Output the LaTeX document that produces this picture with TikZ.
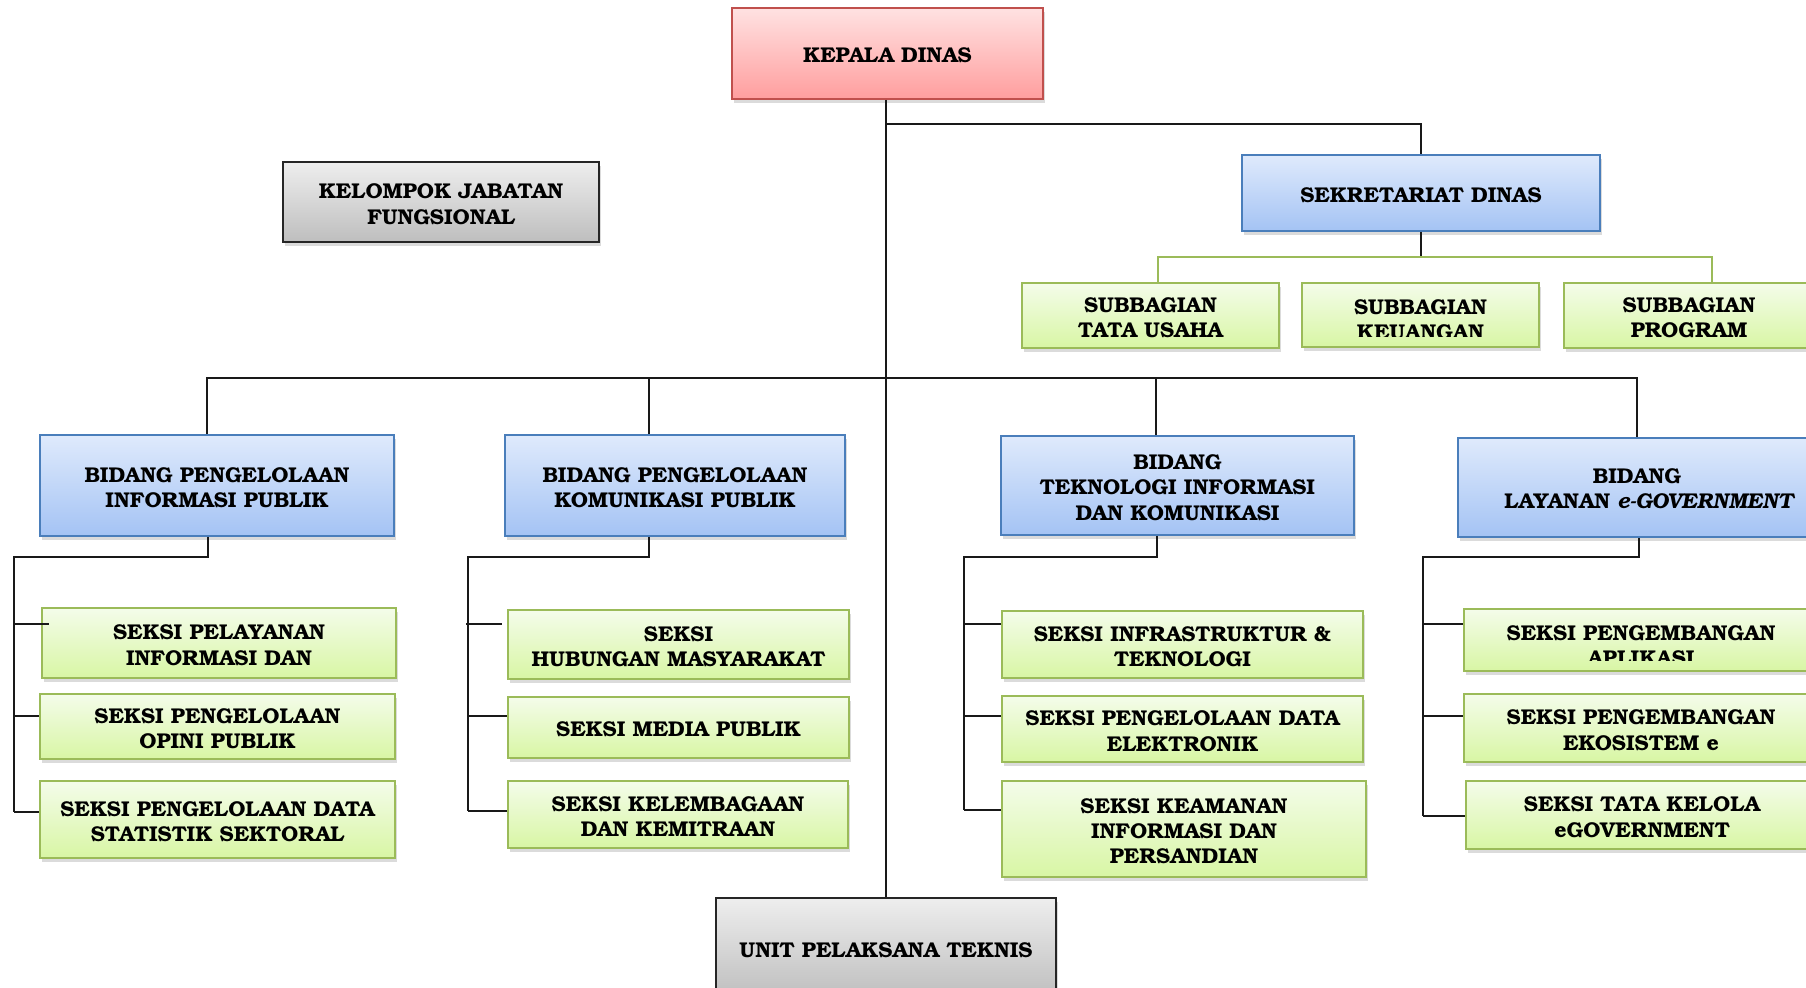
\documentclass[tikz,border=0pt]{standalone}
\usepackage{fontspec}
\setmainfont{texgyrebonum}[Extension=.otf, UprightFont=*-regular, BoldFont=*-bold, ItalicFont=*-italic, BoldItalicFont=*-bolditalic]
\usetikzlibrary{shadows,calc}
\definecolor{redb}{HTML}{C0504D}
\definecolor{redt}{HTML}{FFE2E2}
\definecolor{redbot}{HTML}{FF9E9E}
\definecolor{blueb}{HTML}{4A7EBB}
\definecolor{bluet}{HTML}{DFEAFC}
\definecolor{bluebot}{HTML}{A4C3F4}
\definecolor{greenb}{HTML}{9BBB59}
\definecolor{greent}{HTML}{F4FCEA}
\definecolor{greenbot}{HTML}{D8F6A4}
\definecolor{grayt}{HTML}{EEEEEE}
\definecolor{graybot}{HTML}{BEBEBE}
\tikzset{
  txt/.style={align=center, inner sep=0pt, font=\bfseries\fontsize{10.7}{12.7}\selectfont},
  base/.style={line width=0.9pt, inner sep=0pt, drop shadow={shadow xshift=1.2pt, shadow yshift=-1.8pt, opacity=0.28}},
  redbox/.style={base, draw=redb, top color=redt, bottom color=redbot},
  bluebox/.style={base, draw=blueb, top color=bluet, bottom color=bluebot},
  greenbox/.style={base, draw=greenb, top color=greent, bottom color=greenbot},
  graybox/.style={base, draw=black!85, top color=grayt, bottom color=graybot},
  conn/.style={line width=1.1pt, black!90},
  gconn/.style={line width=1.1pt, greenb},
}
% \bx{style}{name}{x1}{y1}{x2}{y2}{text}  (pixel corners)
\newcommand\bx[7]{%
  \pgfmathsetmacro\bxcx{(#3+#5)/2}%
  \pgfmathsetmacro\bxcy{(#4+#6)/2}%
  \pgfmathsetmacro\bxw{(#5-#3)/2}%
  \pgfmathsetmacro\bxh{(#6-#4)/2}%
  \node[#1, minimum width=\bxw pt, minimum height=\bxh pt] (#2) at (\bxcx,\bxcy) {};
  \node[txt, yshift=-1.1pt] (#2t) at (#2.center) {#7};}
\begin{document}
\begin{tikzpicture}[x=0.5pt,y=-0.5pt]
\clip (0,0) rectangle (1806,988);
\fill[white] (0,0) rectangle (1806,988);
% top level
\bx{redbox}{kepala}{732}{8}{1043}{99}{KEPALA DINAS}
\bx{graybox}{kelompok}{283}{162}{599}{242}{KELOMPOK JABATAN\\FUNGSIONAL}
\bx{bluebox}{sek}{1242}{155}{1600}{231}{SEKRETARIAT DINAS}
\bx{greenbox}{sub1}{1022}{283}{1279}{348}{SUBBAGIAN\\TATA USAHA}
\bx{greenbox}{sub2}{1302}{283}{1539}{347}{}
\begin{scope}
  \clip (1302,283) rectangle (1539,336.5);
  \node[txt] (sub2x) at (1420.5,319.5) {SUBBAGIAN\\KEUANGAN};
\end{scope}
\bx{greenbox}{sub3}{1564}{283}{1814}{348}{SUBBAGIAN\\PROGRAM}
\bx{graybox}{unit}{716}{898}{1056}{998}{UNIT PELAKSANA TEKNIS}
% bidang
\bx{bluebox}{b1}{40}{435}{394}{536}{BIDANG PENGELOLAAN\\INFORMASI PUBLIK}
\bx{bluebox}{b2}{505}{435}{845}{536}{BIDANG PENGELOLAAN\\KOMUNIKASI PUBLIK}
\bx{bluebox}{b3}{1001}{436}{1354}{535}{BIDANG\\TEKNOLOGI INFORMASI\\DAN KOMUNIKASI}
\bx{bluebox}{b4}{1458}{438}{1822}{537}{}
\node[txt] (b4x) at (1637,489) {BIDANG\\\hspace*{1.2em}LAYANAN \textit{e-GOVERNMENT}};
% seksi
\bx{greenbox}{s1a}{42}{608}{396}{678}{SEKSI PELAYANAN\\INFORMASI DAN}
\bx{greenbox}{s1b}{40}{694}{395}{759}{SEKSI PENGELOLAAN\\OPINI PUBLIK}
\bx{greenbox}{s1c}{40}{781}{395}{858}{SEKSI PENGELOLAAN DATA\\STATISTIK SEKTORAL}
\bx{greenbox}{s2a}{508}{610}{849}{679}{SEKSI\\HUBUNGAN MASYARAKAT}
\bx{greenbox}{s2b}{508}{697}{849}{758}{SEKSI MEDIA PUBLIK}
\bx{greenbox}{s2c}{508}{781}{848}{848}{SEKSI KELEMBAGAAN\\DAN KEMITRAAN}
\bx{greenbox}{s3a}{1002}{611}{1363}{678}{SEKSI INFRASTRUKTUR \&\\TEKNOLOGI}
\bx{greenbox}{s3b}{1002}{696}{1363}{762}{SEKSI PENGELOLAAN DATA\\ELEKTRONIK}
\bx{greenbox}{s3c}{1002}{781}{1366}{877}{SEKSI KEAMANAN\\INFORMASI DAN\\PERSANDIAN}
\bx{greenbox}{s4a}{1464}{609}{1818}{671}{}
\begin{scope}
  \clip (1464,609) rectangle (1818,661);
  \node[txt] (s4ax) at (1641,646) {SEKSI PENGEMBANGAN\\APLIKASI};
\end{scope}
\bx{greenbox}{s4b}{1464}{694}{1818}{762}{SEKSI PENGEMBANGAN\\EKOSISTEM e}
\bx{greenbox}{s4c}{1466}{781}{1818}{849}{SEKSI TATA KELOLA\\eGOVERNMENT}
% connectors top
\coordinate (tj) at (886,124);
\draw[conn] (kepala.south -| tj) -- (unit.north -| tj);
\draw[conn] (tj) -| (sek.north);
\draw[conn] (sek.south) -- (sek.south |- 0,257);
\coordinate (gL) at (1158,257);
\coordinate (gR) at (1712,257);
\draw[gconn] (sub1.north -| gL) -- (gL) -- (gR) -- (sub3.north -| gR);
% main bus
\coordinate (mL) at (207,378);
\coordinate (m2) at (649,378);
\coordinate (m3) at (1156,378);
\coordinate (mR) at (1637,378);
\draw[conn] (b1.north -| mL) -- (mL) -- (mR) -- (b4.north -| mR);
\draw[conn] (m2) -- (b2.north -| m2);
\draw[conn] (m3) -- (b3.north -| m3);
% group 1
\coordinate (d1) at (208,557);
\coordinate (v1) at (14,557);
\draw[conn] (b1.south -| d1) -- (d1) -- (v1) -- (v1 |- 0,812);
\draw[conn] (v1 |- 0,624) -- ($(s1a.west |- 0,624)+(8,0)$);
\draw[conn] (v1 |- 0,716) -- (s1b.west |- 0,716);
\draw[conn] (v1 |- 0,812) -- (s1c.west |- 0,812);
% group 2
\coordinate (d2) at (649,557);
\coordinate (v2) at (468,557);
\draw[conn] (b2.south -| d2) -- (d2) -- (v2) -- (v2 |- 0,811);
\draw[conn] ($(v2 |- 0,624)+(-2,0)$) -- ($(s2a.west |- 0,624)+(-5,0)$);
\draw[conn] (v2 |- 0,716) -- (s2b.west |- 0,716);
\draw[conn] (v2 |- 0,811) -- (s2c.west |- 0,811);
% group 3
\coordinate (d3) at (1157,557);
\coordinate (v3) at (964,557);
\draw[conn] (b3.south -| d3) -- (d3) -- (v3) -- (v3 |- 0,810);
\draw[conn] (v3 |- 0,624) -- (s3a.west |- 0,624);
\draw[conn] (v3 |- 0,716) -- (s3b.west |- 0,716);
\draw[conn] (v3 |- 0,810) -- (s3c.west |- 0,810);
% group 4
\coordinate (d4) at (1639,557);
\coordinate (v4) at (1423,557);
\draw[conn] (b4.south -| d4) -- (d4) -- (v4) -- (v4 |- 0,816);
\draw[conn] (v4 |- 0,624) -- (s4a.west |- 0,624);
\draw[conn] (v4 |- 0,716) -- (s4b.west |- 0,716);
\draw[conn] (v4 |- 0,816) -- (s4c.west |- 0,816);
\end{tikzpicture}
\end{document}
